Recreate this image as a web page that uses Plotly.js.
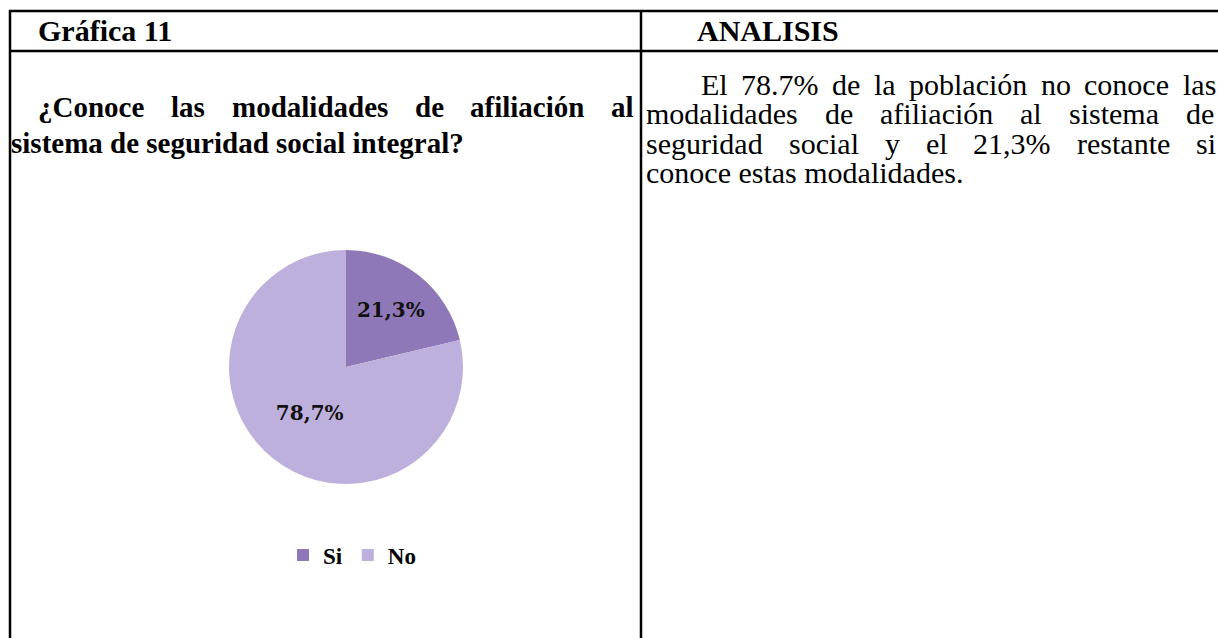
<!DOCTYPE html>
<html>
<head>
<meta charset="utf-8">
<script src="https://cdn.plot.ly/plotly-3.0.1.min.js"></script>
<style>html,body{margin:0;padding:0;background:#fff;}#chart{width:1218px;height:638px;}</style>
</head>
<body>
<div id="chart"></div>
<script>
// ---- data ----
const categories = ["Si", "No"];
const percentValues = [21.3, 78.7];
const sliceColors = ["#8f78b8", "#beb0dd"];
const headerLeft = "Gráfica 11";
const headerRight = "ANALISIS";
const questionLines = [
  ["¿Conoce", "las", "modalidades", "de", "afiliación", "al"],
  ["sistema de seguridad social integral?"]
];
const analysisLines = [
  ["El", "78.7%", "de", "la", "población", "no", "conoce", "las"],
  ["modalidades", "de", "afiliación", "al", "sistema", "de"],
  ["seguridad", "social", "y", "el", "21,3%", "restante", "si"],
  ["conoce estas modalidades."]
];

// ---- layout helpers ----
const W = 1218, H = 638;
const X = px => px / W;
const Y = py => 1 - py / H;

const serifName = "Liberation Serif";
const serif = "Liberation Serif, Times New Roman, serif";
const ctx = document.createElement("canvas").getContext("2d");
function measure(t, size, bold) {
  ctx.font = (bold ? "bold " : "") + size + "px '" + serifName + "'";
  return ctx.measureText(t).width;
}

const annotations = [];
function addText(text, x, y, size, bold) {
  annotations.push({
    text: bold ? "<b>" + text + "</b>" : text,
    xref: "paper", yref: "paper", x: X(x), y: Y(y),
    xanchor: "left", yanchor: "middle", showarrow: false,
    borderpad: 0, borderwidth: 0,
    font: {family: serif, size: size, color: "#000"}
  });
}
// a line of words; if end given, words are spread (justified) between start and end
function addLine(words, start, end, y, size, bold) {
  if (end == null || words.length < 2) {
    addText(words.join(" "), start, y, size, bold);
    return;
  }
  const ws = words.map(w => measure(w, size, bold));
  const total = ws.reduce((a, b) => a + b, 0);
  const gap = (end - start - total) / (words.length - 1);
  let x = start;
  words.forEach((w, i) => { addText(w, x, y, size, bold); x += ws[i] + gap; });
}

const headSize = 30, qSize = 29, aSize = 30;
addText(headerLeft, 38, 31, headSize, true);
addText(headerRight, 697, 31, headSize, true);

addLine(questionLines[0], 38, 634, 107, qSize, true);
addLine(questionLines[1], 11, null, 143, qSize, true);

addLine(analysisLines[0], 701, 1216, 84, aSize, false);
addLine(analysisLines[1], 646, 1214, 114, aSize, false);
addLine(analysisLines[2], 646, 1216, 143, aSize, false);
addLine(analysisLines[3], 646, null, 172, aSize, false);

const lw = 2.5;
const ln = (x0, y0, x1, y1) => ({type: "line", xref: "paper", yref: "paper",
  x0: X(x0), x1: X(x1), y0: Y(y0), y1: Y(y1), line: {color: "#000", width: lw}});
const shapes = [
  ln(9, 11, 1218, 11),
  ln(9, 51, 1218, 51),
  ln(10, 10, 10, 638),
  ln(641, 10, 641, 638)
];

const pieText = percentValues.map(v => v.toFixed(1).replace(".", ",") + "%");

const trace = {
  type: "pie",
  labels: categories,
  values: percentValues,
  text: pieText,
  textinfo: "text",
  textposition: "inside",
  insidetextorientation: "horizontal",
  textfont: {family: "DejaVu Serif", size: 20, color: "#111", weight: "bold"},
  sort: false,
  direction: "clockwise",
  rotation: 0,
  marker: {colors: sliceColors, line: {width: 0}},
  hoverinfo: "label+percent",
  domain: {x: [X(229), X(463)], y: [Y(484), Y(250)]}
};

const layout = {
  width: W, height: H,
  margin: {l: 0, r: 0, t: 0, b: 0},
  paper_bgcolor: "#fff",
  plot_bgcolor: "#fff",
  showlegend: true,
  legend: {
    orientation: "h", x: X(352), xanchor: "center", y: Y(555), yanchor: "middle",
    font: {family: serif, size: 23, color: "#000", weight: "bold"},
    itemwidth: 30, traceorder: "normal"
  },
  annotations: annotations,
  shapes: shapes
};

Plotly.newPlot("chart", [trace], layout, {displayModeBar: false, staticPlot: true});
</script>
</body>
</html>
